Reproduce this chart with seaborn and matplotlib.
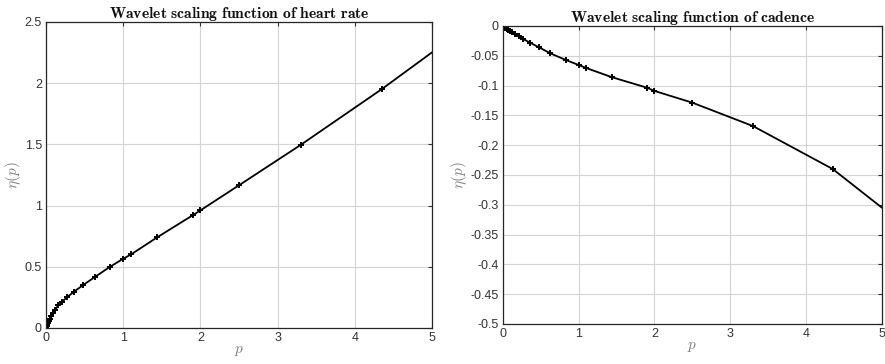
import matplotlib
matplotlib.use("Agg")
import matplotlib.pyplot as plt
import seaborn as sns
import pandas as pd

# Moment orders p (shared by both panels) and scaling exponents eta(p)
p_values = [0, 0.01, 0.013, 0.017, 0.023, 0.03, 0.039, 0.052, 0.068, 0.09, 0.12,
            0.16, 0.21, 0.27, 0.36, 0.48, 0.63, 0.83, 1.0, 1.1, 1.44, 1.9, 2.0,
            2.5, 3.3, 4.35, 5.0]
eta_heart_rate = [0, 0.02, 0.025, 0.032, 0.04, 0.05, 0.06, 0.075, 0.095, 0.12, 0.15,
                  0.185, 0.215, 0.25, 0.295, 0.35, 0.415, 0.50, 0.565, 0.60, 0.74,
                  0.92, 0.96, 1.165, 1.495, 1.95, 2.25]
eta_cadence = [0, -0.0008, -0.0011, -0.0015, -0.002, -0.0027, -0.0035, -0.0045,
               -0.006, -0.008, -0.0105, -0.0135, -0.017, -0.022, -0.028, -0.036,
               -0.046, -0.057, -0.0654, -0.0705, -0.086, -0.1035, -0.109, -0.1287,
               -0.168, -0.24, -0.305]

titles = ["Wavelet scaling function of heart rate", "Wavelet scaling function of cadence"]
yticks_hr = [0, 0.5, 1, 1.5, 2, 2.5]
yticks_cad = [0, -0.05, -0.1, -0.15, -0.2, -0.25, -0.3, -0.35, -0.4, -0.45, -0.5]
xticks = [0, 1, 2, 3, 4, 5]

sns.set_theme(style="white")
plt.rcParams["font.family"] = ["Liberation Sans", "DejaVu Sans"]
plt.rcParams["mathtext.fontset"] = "cm"
plt.rcParams["axes.unicode_minus"] = False

df = pd.DataFrame({"p": p_values, "hr": eta_heart_rate, "cad": eta_cadence})

fig = plt.figure(figsize=(8.85, 3.64), dpi=100)
ax1 = fig.add_axes([0.052, 0.099, 0.436, 0.841])
ax2 = fig.add_axes([0.568, 0.110, 0.4286, 0.8187])

panels = [(ax1, "hr", titles[0], yticks_hr, (0, 2.5)),
          (ax2, "cad", titles[1], yticks_cad, (-0.5, 0))]

for ax, col, title, yt, ylim in panels:
    sns.lineplot(data=df, x="p", y=col, ax=ax, color="black", linewidth=1.3,
                 sort=False, marker="+", markersize=5, markeredgewidth=1.4,
                 markeredgecolor="black", markevery=slice(0, -1))
    ax.set_xlim(0, 5)
    ax.set_ylim(*ylim)
    ax.set_xticks(xticks)
    ax.set_xticklabels([str(t) for t in xticks])
    ax.set_yticks(yt)
    ax.set_yticklabels([f"{t:g}" for t in yt])
    ax.grid(True, color="#d4d4d4", linewidth=0.8)
    ax.tick_params(direction="in", length=3, width=0.8, colors="#333333",
                   labelsize=9, top=True, right=True, pad=3)
    for s in ax.spines.values():
        s.set_color("#262626")
        s.set_linewidth(0.9)
    words = title.replace(" ", r"\ ")
    ax.set_title(r"$\mathbf{" + words + "}$", fontsize=11.3, pad=3, color="#111111")
    ax.set_xlabel(r"$p$", fontsize=11, color="#808080", labelpad=0)
    ax.set_ylabel(r"$\eta(p)$", fontsize=11, color="#808080", labelpad=1)

fig.savefig("out.png", dpi=100)
